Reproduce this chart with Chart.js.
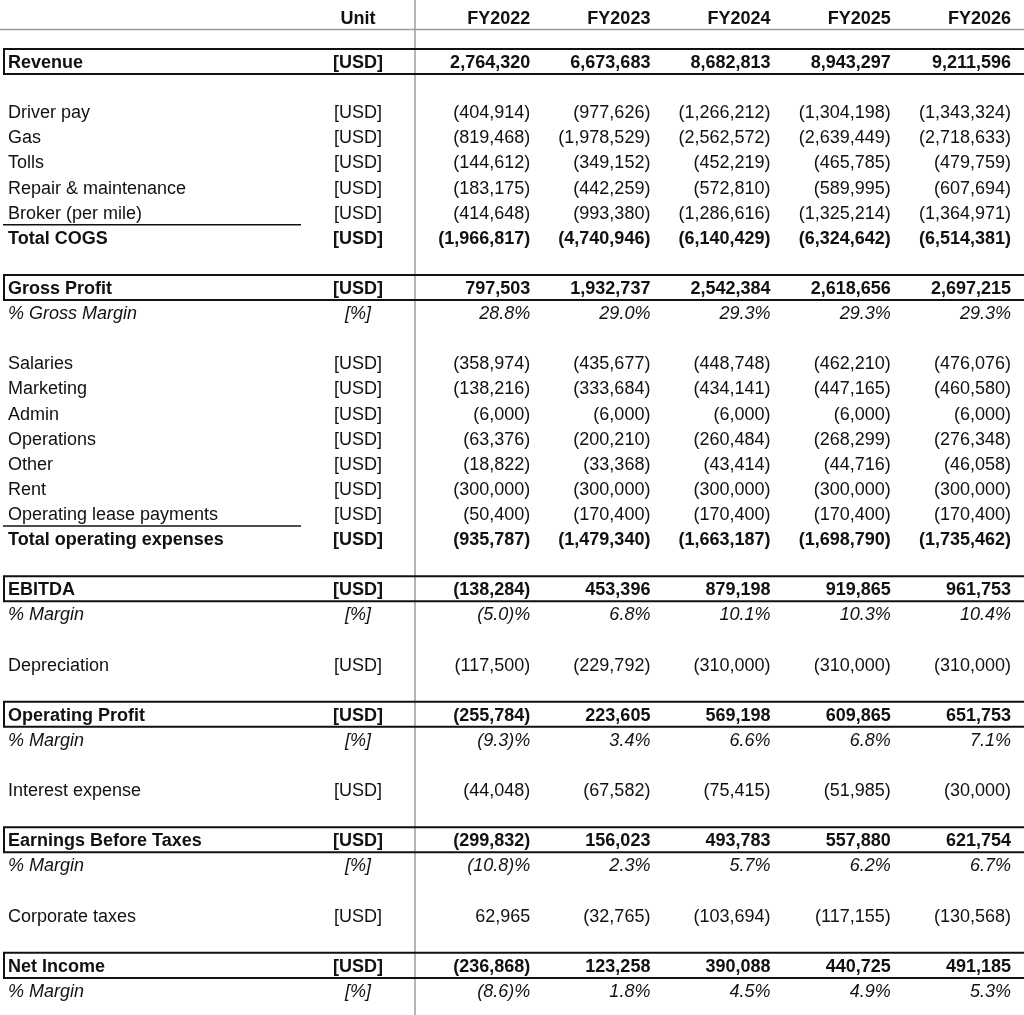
<!DOCTYPE html>
<html>
<head>
<meta charset="utf-8">
<script src="https://cdn.jsdelivr.net/npm/chart.js@4.4.1/dist/chart.umd.min.js"></script>
<style>
  html, body { margin: 0; padding: 0; background: #fff; }
  #wrap { width: 1024px; height: 1015px; }
</style>
</head>
<body>
<div id="wrap"><canvas id="plTable" width="1024" height="1015"></canvas></div>
<script>
// Column headers (fiscal years)
const years = ['FY2022', 'FY2023', 'FY2024', 'FY2025', 'FY2026'];

// P&L lines, USD (negatives shown in brackets)
const revenue = [2764320, 6673683, 8682813, 8943297, 9211596];
const driverPay = [-404914, -977626, -1266212, -1304198, -1343324];
const gas = [-819468, -1978529, -2562572, -2639449, -2718633];
const tolls = [-144612, -349152, -452219, -465785, -479759];
const repairMaintenance = [-183175, -442259, -572810, -589995, -607694];
const broker = [-414648, -993380, -1286616, -1325214, -1364971];
const totalCogs = [-1966817, -4740946, -6140429, -6324642, -6514381];
const grossProfit = [797503, 1932737, 2542384, 2618656, 2697215];
const grossMargin = [28.8, 29.0, 29.3, 29.3, 29.3];
const salaries = [-358974, -435677, -448748, -462210, -476076];
const marketing = [-138216, -333684, -434141, -447165, -460580];
const admin = [-6000, -6000, -6000, -6000, -6000];
const operations = [-63376, -200210, -260484, -268299, -276348];
const other = [-18822, -33368, -43414, -44716, -46058];
const rent = [-300000, -300000, -300000, -300000, -300000];
const leasePayments = [-50400, -170400, -170400, -170400, -170400];
const totalOpex = [-935787, -1479340, -1663187, -1698790, -1735462];
const ebitda = [-138284, 453396, 879198, 919865, 961753];
const ebitdaMargin = [-5.0, 6.8, 10.1, 10.3, 10.4];
const depreciation = [-117500, -229792, -310000, -310000, -310000];
const operatingProfit = [-255784, 223605, 569198, 609865, 651753];
const operatingMargin = [-9.3, 3.4, 6.6, 6.8, 7.1];
const interestExpense = [-44048, -67582, -75415, -51985, -30000];
const ebt = [-299832, 156023, 493783, 557880, 621754];
const ebtMargin = [-10.8, 2.3, 5.7, 6.2, 6.7];
const corporateTaxes = [62965, -32765, -103694, -117155, -130568];
const netIncome = [-236868, 123258, 390088, 440725, 491185];
const netMargin = [-8.6, 1.8, 4.5, 4.9, 5.3];

// row layout: [label, unit, values, style]
// style: b = bold, i = italic (percent), box = framed row, u = underline below label
const rows = [
    ['Revenue', '[USD]', revenue, 'b box'],
    ['', '', null, ''],
    ['Driver pay', '[USD]', driverPay, ''],
    ['Gas', '[USD]', gas, ''],
    ['Tolls', '[USD]', tolls, ''],
    ['Repair & maintenance', '[USD]', repairMaintenance, ''],
    ['Broker (per mile)', '[USD]', broker, 'u'],
    ['Total COGS', '[USD]', totalCogs, 'b'],
    ['', '', null, ''],
    ['Gross Profit', '[USD]', grossProfit, 'b box'],
    ['% Gross Margin', '[%]', grossMargin, 'i'],
    ['', '', null, ''],
    ['Salaries', '[USD]', salaries, ''],
    ['Marketing', '[USD]', marketing, ''],
    ['Admin', '[USD]', admin, ''],
    ['Operations', '[USD]', operations, ''],
    ['Other', '[USD]', other, ''],
    ['Rent', '[USD]', rent, ''],
    ['Operating lease payments', '[USD]', leasePayments, 'u'],
    ['Total operating expenses', '[USD]', totalOpex, 'b'],
    ['', '', null, ''],
    ['EBITDA', '[USD]', ebitda, 'b box'],
    ['% Margin', '[%]', ebitdaMargin, 'i'],
    ['', '', null, ''],
    ['Depreciation', '[USD]', depreciation, ''],
    ['', '', null, ''],
    ['Operating Profit', '[USD]', operatingProfit, 'b box'],
    ['% Margin', '[%]', operatingMargin, 'i'],
    ['', '', null, ''],
    ['Interest expense', '[USD]', interestExpense, ''],
    ['', '', null, ''],
    ['Earnings Before Taxes', '[USD]', ebt, 'b box'],
    ['% Margin', '[%]', ebtMargin, 'i'],
    ['', '', null, ''],
    ['Corporate taxes', '[USD]', corporateTaxes, ''],
    ['', '', null, ''],
    ['Net Income', '[USD]', netIncome, 'b box'],
    ['% Margin', '[%]', netMargin, 'i'],
];

const FONT = '"Liberation Sans", Arial, Helvetica, sans-serif';

function fmtNum(v) {
    const s = Math.abs(v).toLocaleString('en-US');
    return v < 0 ? '(' + s + ')' : s;
}
function fmtPct(v) {
    const s = Math.abs(v).toFixed(1);
    return v < 0 ? '(' + s + ')%' : s + '%';
}

const tablePlugin = {
    id: 'tableCells',
    afterDraw(chart) {
        const ctx = chart.ctx;
        const x = chart.scales.x;
        const y = chart.scales.y;
        const area = chart.chartArea;
        const W = chart.width, H = chart.height;
        const colW = x.width / years.length;
        const rowH = y.height / rows.length;
        const unitX = area.left - 57;

        ctx.save();
        ctx.fillStyle = '#fff';
        ctx.fillRect(0, 0, W, H);

        // grey header rule + vertical divider
        ctx.strokeStyle = '#9c9c9c';
        ctx.lineWidth = 1.5;
        ctx.beginPath();
        ctx.moveTo(0, area.top - 19.5);
        ctx.lineTo(W, area.top - 19.5);
        ctx.moveTo(area.left, 0);
        ctx.lineTo(area.left, H);
        ctx.stroke();

        // header
        ctx.fillStyle = '#111';
        ctx.font = 'bold 18px ' + FONT;
        ctx.textAlign = 'center';
        ctx.fillText('Unit', unitX, area.top - 25.5);
        ctx.textAlign = 'right';
        years.forEach((yr, i) => {
            ctx.fillText(yr, x.getPixelForValue(i) + colW / 2 - 5, area.top - 25.5);
        });

        rows.forEach((r, ri) => {
            const [label, unit, vals, style] = r;
            const cy = y.getPixelForValue(ri);
            const base = cy + 6.5;
            const bold = style.includes('b');
            const italic = style.includes('i');
            ctx.font = (italic ? 'italic ' : '') + (bold ? 'bold ' : '') + '18px ' + FONT;
            ctx.fillStyle = '#111';
            if (label) {
                ctx.textAlign = 'left';
                ctx.fillText(label, 8, base);
                ctx.textAlign = 'center';
                ctx.fillText(unit, unitX, base);
            }
            if (vals) {
                ctx.textAlign = 'right';
                vals.forEach((v, i) => {
                    const txt = italic ? fmtPct(v) : fmtNum(v);
                    ctx.fillText(txt, x.getPixelForValue(i) + colW / 2 - 5, base);
                });
            }
            ctx.strokeStyle = '#111';
            if (style.includes('box')) {
                const t = cy - rowH / 2, b = cy + rowH / 2;
                ctx.lineWidth = 2;
                ctx.beginPath();
                ctx.moveTo(3, t); ctx.lineTo(W, t);
                ctx.moveTo(3, b); ctx.lineTo(W, b);
                ctx.moveTo(4, t); ctx.lineTo(4, b);
                ctx.stroke();
            }
            if (style.includes('u')) {
                const b = cy + rowH / 2;
                ctx.lineWidth = 1.5;
                ctx.beginPath();
                ctx.moveTo(3, b); ctx.lineTo(301, b);
                ctx.stroke();
            }
        });
        ctx.restore();
    }
};

new Chart(document.getElementById('plTable').getContext('2d'), {
    type: 'scatter',
    data: { datasets: [] },
    options: {
        responsive: false,
        animation: false,
        layout: { padding: { left: 415, right: 8, top: 49, bottom: 12 } },
        plugins: { legend: { display: false }, tooltip: { enabled: false } },
        scales: {
            x: { type: 'category', labels: years, offset: true, display: false },
            y: { type: 'category', labels: rows.map((r, i) => String(i)), offset: true, display: false },
        },
    },
    plugins: [tablePlugin],
});
</script>
</body>
</html>
